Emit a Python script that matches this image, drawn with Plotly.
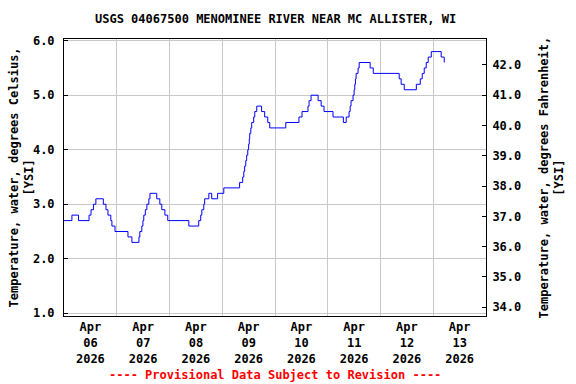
import pandas as pd
import plotly.graph_objects as go

title_text = "USGS 04067500 MENOMINEE RIVER NEAR MC ALLISTER, WI"
left_title = "Temperature, water, degrees Celsius,<br>[YSI]"
right_title = "Temperature, water, degrees Fahrenheit,<br>[YSI]"
footer_text = "---- Provisional Data Subject to Revision ----"

start_time = "2026-04-06 00:00"
# hours since start at which the reading changes, and the new reading (deg C)
hours = [0, 3.6, 6.6, 11.4, 12.3, 13.4, 14.5, 17.9, 19.1, 20.0, 21.3, 21.8, 23.2,
         29.1, 30.9, 34.1, 34.5, 35.4, 35.9, 36.3, 37.0, 37.7, 38.6, 39.1,
         42.2, 43.6, 44.5, 45.9, 47.2, 56.8, 61.3, 62.2, 62.7, 63.6, 64.0,
         65.9, 67.2, 69.9, 72.7, 79.9, 81.3, 81.8, 82.2, 82.7, 83.1, 83.6,
         84.0, 84.3, 84.5, 85.0, 85.4, 86.3, 86.8, 87.7, 89.9, 91.3, 92.7,
         93.6, 100.9, 106.9, 108.3, 111.0, 111.5, 112.4, 115.6, 117.0, 118.3,
         122.4, 127.1, 128.4, 129.7, 130.2, 130.6, 131.5, 132.0, 132.3, 132.6,
         132.9, 133.8, 134.3, 139.3, 140.7, 152.5, 153.4, 154.8, 160.3, 162.1,
         163.0, 163.9, 164.8, 165.7, 167.1, 171.6, 173.0, 173.0]
temp_c = [2.7, 2.8, 2.7, 2.8, 2.9, 3.0, 3.1, 3.0, 2.9, 2.8, 2.7, 2.6, 2.5,
          2.4, 2.3, 2.4, 2.5, 2.6, 2.7, 2.8, 2.9, 3.0, 3.1, 3.2,
          3.1, 3.0, 2.9, 2.8, 2.7, 2.6, 2.7, 2.8, 2.9, 3.0, 3.1,
          3.2, 3.1, 3.2, 3.3, 3.4, 3.5, 3.6, 3.7, 3.8, 3.9, 4.0,
          4.1, 4.2, 4.3, 4.4, 4.5, 4.6, 4.7, 4.8, 4.7, 4.6, 4.5,
          4.4, 4.5, 4.6, 4.7, 4.8, 4.9, 5.0, 4.9, 4.8, 4.7,
          4.6, 4.5, 4.6, 4.7, 4.8, 4.9, 5.0, 5.1, 5.2, 5.3,
          5.4, 5.5, 5.6, 5.5, 5.4, 5.3, 5.2, 5.1, 5.2, 5.3,
          5.4, 5.5, 5.6, 5.7, 5.8, 5.7, 5.6, 5.6]

day_ticks = ["2026-04-06 12:00", "2026-04-07 12:00", "2026-04-08 12:00", "2026-04-09 12:00",
             "2026-04-10 12:00", "2026-04-11 12:00", "2026-04-12 12:00", "2026-04-13 12:00"]
day_labels = ["Apr<br>06<br>2026", "Apr<br>07<br>2026", "Apr<br>08<br>2026", "Apr<br>09<br>2026",
              "Apr<br>10<br>2026", "Apr<br>11<br>2026", "Apr<br>12<br>2026", "Apr<br>13<br>2026"]
c_ticks = [1.0, 2.0, 3.0, 4.0, 5.0, 6.0]
f_ticks = [34.0, 35.0, 36.0, 37.0, 38.0, 39.0, 40.0, 41.0, 42.0]

x_times = pd.Timestamp(start_time) + pd.to_timedelta(hours, unit="h")

c_range = [0.95, 6.031]
f_range = [c_range[0] * 1.8 + 32, c_range[1] * 1.8 + 32]

font = dict(family="DejaVu Sans Mono", size=12, color="black", weight="bold")

fig = go.Figure()
fig.add_trace(go.Scatter(x=x_times, y=temp_c, mode="lines", line=dict(color="#0000ff", width=1, shape="hv"),
                         showlegend=False, hoverinfo="skip"))
fig.add_trace(go.Scatter(x=[x_times[0]], y=[None], yaxis="y2", mode="lines", showlegend=False, hoverinfo="skip"))

fig.update_layout(
    width=576, height=384,
    margin=dict(l=64, r=90, t=39, b=68),
    paper_bgcolor="white", plot_bgcolor="white",
    font=font,
    xaxis=dict(
        range=["2026-04-06 00:00", "2026-04-14 00:00"],
        tickmode="array", tickvals=day_ticks, ticktext=day_labels,
        showgrid=False, ticks="", showline=True, linecolor="black", linewidth=1, mirror=True,
        minor=dict(tickmode="linear", tick0="2026-04-06", dtick=86400000, showgrid=True,
                   gridcolor="#c8c8c8", gridwidth=1, ticks=""),
        tickfont=font, zeroline=False,
    ),
    yaxis=dict(
        range=c_range, tickmode="array", tickvals=c_ticks, tickformat=".1f",
        showgrid=True, gridcolor="#c8c8c8", gridwidth=1,
        ticks="inside", ticklen=4, tickcolor="black",
        showline=True, linecolor="black", linewidth=1, zeroline=False,
        tickfont=font, ticklabelstandoff=6,
    ),
    yaxis2=dict(
        range=f_range, overlaying="y", side="right", tickmode="array", tickvals=f_ticks,
        tickformat=".1f", showgrid=False, ticks="inside", ticklen=4, tickcolor="black",
        showline=True, linecolor="black", linewidth=1, zeroline=False, tickfont=font,
        ticklabelstandoff=3,
    ),
    annotations=[
        dict(text=title_text, xref="paper", yref="paper", x=0.5, y=1, yshift=20,
             xanchor="center", yanchor="middle", showarrow=False, font=font),
        dict(text=footer_text, xref="paper", yref="paper", x=0.5, y=0, yshift=-59,
             xanchor="center", yanchor="middle", showarrow=False, font=dict(font, color="#ff0000")),
        dict(text=left_title, xref="paper", yref="paper", x=0, y=0.5, xshift=-43,
             xanchor="center", yanchor="middle", textangle=-90, showarrow=False, font=font),
        dict(text=right_title, xref="paper", yref="paper", x=1, y=0.5, xshift=65,
             xanchor="center", yanchor="middle", textangle=-90, showarrow=False, font=font),
    ],
)

fig.write_html("out.html")
